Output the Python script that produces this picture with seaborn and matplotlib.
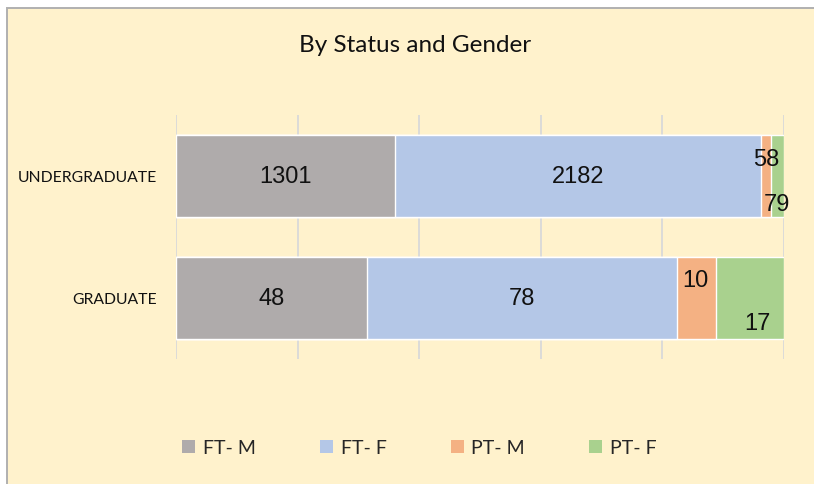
import numpy as np
import pandas as pd
import seaborn as sns
import matplotlib.pyplot as plt
from matplotlib.patches import Rectangle, Patch

levels = ['UNDERGRADUATE', 'GRADUATE']
groups = ['FT- M', 'FT- F', 'PT- M', 'PT- F']
ft_m = [1301, 48]
ft_f = [2182, 78]
pt_m = [58, 10]
pt_f = [79, 17]

COLORS = ['#AFABAB', '#B4C7E7', '#F4B183', '#A9D18E']
CREAM = '#FFF2CC'
# little nudges for the labels of the thin segments (points)
LABEL_NUDGE = {
    ('PT- M', 0): (0, 12), ('PT- F', 0): (0, -20),
    ('PT- M', 1): (-1, 13), ('PT- F', 1): (5, -18),
}

sns.set_theme(style='white')
plt.rcParams['font.family'] = ['Lato', 'DejaVu Sans']
NUM_FONT = ['Liberation Sans Narrow', 'Liberation Sans', 'DejaVu Sans']


def main():
    counts = pd.DataFrame({'FT- M': ft_m, 'FT- F': ft_f, 'PT- M': pt_m, 'PT- F': pt_f},
                          index=levels)
    pct = counts.div(counts.sum(axis=1), axis=0) * 100
    cum = pct.cumsum(axis=1)

    fig = plt.figure(figsize=(8.14, 4.85), dpi=100, facecolor='white')
    fig.patches.append(Rectangle((6.5 / 814, -0.1), 1.2, 1.1 - 8.5 / 485,
                                 transform=fig.transFigure, facecolor=CREAM,
                                 edgecolor='#B0B0B0', lw=1.4, zorder=-10))
    ax = fig.add_axes([176 / 814, 1 - 360 / 485, 608 / 814, 244 / 485])
    ax.set_facecolor('none')

    # stacked via overlapping cumulative bars, widest first
    for i in reversed(range(len(groups))):
        sns.barplot(x=cum[groups[i]].values, y=levels, orient='h', color=COLORS[i],
                    saturation=1, width=0.68, ax=ax, zorder=2)

    for i, g in enumerate(groups):
        for j in range(len(levels)):
            xc = cum[g].iloc[j] - pct[g].iloc[j] / 2
            dx, dy = LABEL_NUDGE.get((g, j), (0, 0))
            ax.annotate(str(counts[g].iloc[j]), (xc, j), xytext=(dx, dy),
                        textcoords='offset points', ha='center', va='center',
                        fontsize=17, color='#111111', family=NUM_FONT, zorder=5)

    ax.set_xlim(0, 100)
    ax.set_ylim(1.5, -0.5)
    ax.set_xticks(np.arange(0, 101, 20))
    ax.set_xticklabels([])
    ax.set_axisbelow(True)
    ax.xaxis.grid(True, color='#D9D9D9', lw=1.3)
    ax.yaxis.grid(False)
    ax.tick_params(axis='both', length=0)
    ax.tick_params(axis='y', pad=14, labelsize=11.3, labelcolor='#111111')
    ax.set_xlabel('')
    ax.set_ylabel('')
    sns.despine(ax=ax, left=True, bottom=True)

    fig.text(0.51, 1 - 46 / 485, 'By Status and Gender', ha='center', va='center',
             fontsize=17.5, color='#111111')

    handles = [Patch(facecolor=c, edgecolor='none') for c in COLORS]
    fig.legend(handles, groups, loc='center', bbox_to_anchor=(0.515, 1 - 449 / 485),
               ncol=4, frameon=False, fontsize=14, handlelength=0.67, handleheight=0.67,
               handletextpad=0.4, columnspacing=3.3)

    fig.savefig('out.png', dpi=100)


if __name__ == '__main__':
    main()
